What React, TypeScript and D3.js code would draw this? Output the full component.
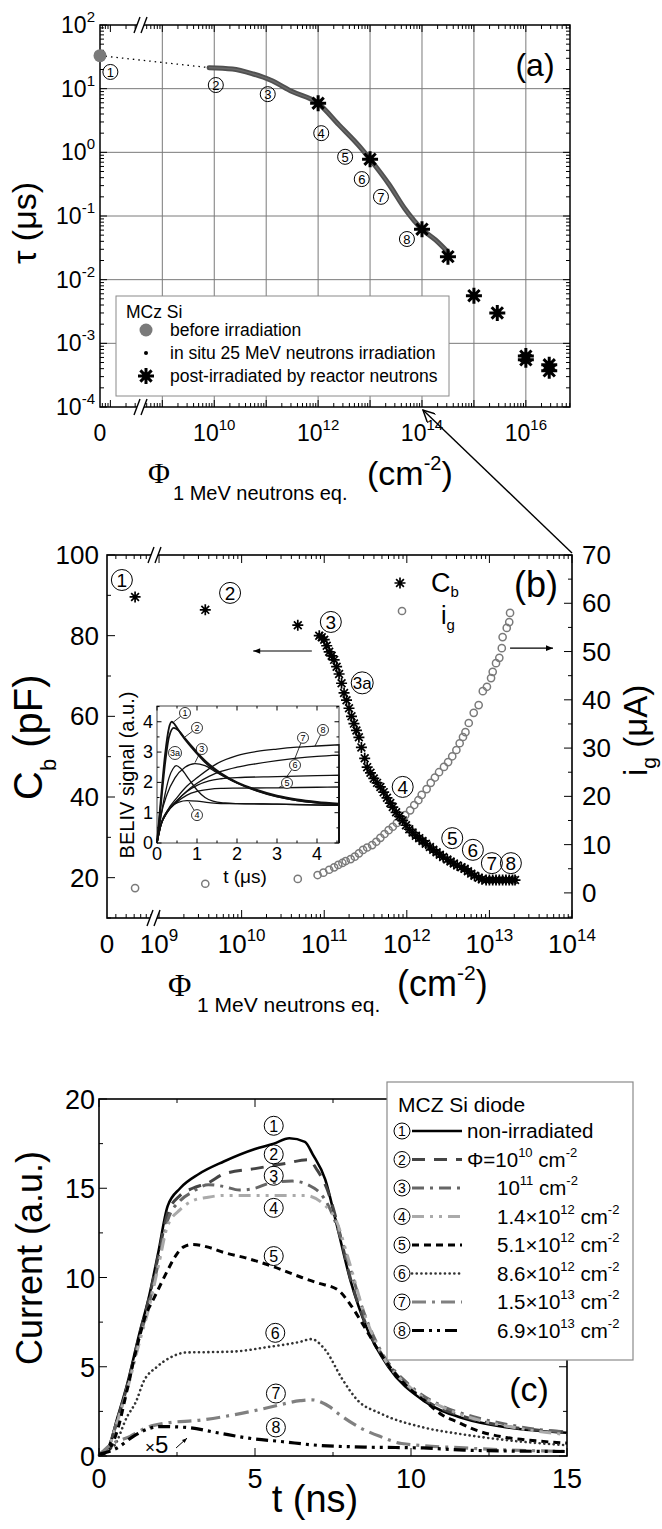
import React from 'react';
import * as d3 from 'd3';

// ---------- panel (a): lifetime vs fluence ----------
const tauBefore = 33; // unirradiated sample, plotted at fluence "0"
const insituLogPhi = [9.9, 10.35, 10.75, 11.08, 11.5, 12.0, 12.4, 12.8, 13.0, 13.37, 13.67, 14.0, 14.26, 14.5];
const insituTau = [21.4, 20.4, 17, 13.7, 9.0, 5.9, 2.7, 1.23, 0.78, 0.31, 0.13, 0.062, 0.042, 0.027];
const reactorLogPhi = [12, 13, 14, 14.5, 15, 15.45, 16, 16, 16.45, 16.45];
const reactorTau = [5.9, 0.78, 0.062, 0.023, 0.0056, 0.003, 6.3e-4, 5.5e-4, 4.6e-4, 3.7e-4];
const aLabelText = ['1', '2', '3', '4', '5', '6', '7', '8'];
const aLabelLogPhi = [8.0, 10.03, 11.03, 12.06, 12.52, 12.84, 13.21, 13.71];
const aLabelTau = [18.3, 11.4, 8.2, 2.0, 0.85, 0.38, 0.2, 0.0435];
const aLegend = ['before irradiation', 'in situ 25 MeV neutrons irradiation', 'post-irradiated by reactor neutrons'];
const aXLabelPow = [10, 12, 14, 16];
const aYPow = [-4, -3, -2, -1, 0, 1, 2];

// ---------- panel (b): barrier capacitance and generation current ----------
const cbLogPhi = [8.71, 9.56, 10.68,
  10.94, 10.97, 11.0, 11.03, 11.06, 11.09, 11.12, 11.15, 11.18, 11.21, 11.24, 11.27, 11.3, 11.33, 11.36, 11.39,
  11.42, 11.45, 11.49, 11.52, 11.56, 11.6, 11.64, 11.68, 11.72, 11.76, 11.8, 11.83, 11.87, 11.91, 11.95, 11.99,
  12.03, 12.07, 12.11, 12.15, 12.19, 12.23, 12.28, 12.32, 12.36, 12.4, 12.44, 12.49, 12.53, 12.57, 12.61, 12.66,
  12.7, 12.74, 12.78, 12.82, 12.87, 12.91, 12.96, 13.0, 13.04, 13.08, 13.12, 13.16, 13.2, 13.24, 13.28, 13.31];
const cbVal = [89.6, 86.4, 82.6,
  80.0, 79.6, 79.0, 77.5, 76.0, 75.0, 74.0, 72.3, 70.5, 68.2, 65.8, 64.0, 62.0, 60.0, 58.2, 56.5,
  54.8, 52.3, 49.6, 47.4, 46.0, 44.6, 43.5, 42.5, 41.2, 39.8, 38.5, 37.5, 36.2, 35.2, 34.2, 33.0,
  32.0, 31.2, 30.4, 29.8, 29.1, 28.4, 27.6, 26.9, 26.3, 25.7, 25.1, 24.5, 24.0, 23.5, 23.0, 22.6,
  22.2, 21.6, 21.0, 20.5, 20.0, 19.6, 19.4, 19.4, 19.4, 19.4, 19.4, 19.4, 19.4, 19.4, 19.4, 19.4];
const igLogPhi = [8.71, 9.56, 10.68,
  10.92, 10.99, 11.06, 11.12, 11.17, 11.22, 11.26, 11.32, 11.37, 11.42, 11.47, 11.52, 11.58, 11.63, 11.68,
  11.73, 11.78, 11.83, 11.88, 11.93, 11.98, 12.04, 12.09, 12.14, 12.18, 12.24, 12.29, 12.34, 12.39, 12.45,
  12.5, 12.55, 12.6, 12.64, 12.68, 12.71, 12.75, 12.81, 12.87, 12.92, 12.97, 13.02, 13.04, 13.08, 13.12,
  13.15, 13.16, 13.21, 13.24, 13.25];
const igVal = [1.0, 1.9, 2.9,
  3.7, 4.2, 4.8, 5.3, 5.8, 6.2, 6.6, 7.0, 7.5, 8.2, 8.9, 9.4, 9.9, 10.6, 11.4,
  12.2, 13.0, 13.7, 14.5, 15.3, 16.1, 17.1, 18.2, 19.2, 20.3, 21.5, 22.8, 23.9, 25.0, 26.1,
  27.1, 28.3, 29.6, 31.0, 32.3, 33.3, 35.2, 37.3, 38.9, 41.8, 42.7, 44.5, 45.8, 47.6, 48.7,
  50.7, 53.0, 54.9, 56.1, 58.0];
const bLabelText = ['1', '2', '3', '3a', '4', '5', '6', '7', '8'];
const bLabelLogPhi = [8.55, 9.86, 11.08, 11.46, 11.95, 12.55, 12.8, 13.03, 13.26];
const bLabelCb = [93.8, 90.6, 83.4, 68.3, 42.5, 29.8, 26.9, 23.6, 23.6];
const bXPow = [9, 10, 11, 12, 13, 14];
const bLeftTicks = [20, 40, 60, 80, 100];
const bRightTicks = [0, 10, 20, 30, 40, 50, 60, 70];

// inset: BELIV transients
const belivCurves = [
  { id: '1', pts: [[0, 0], [0.1, 1.5], [0.2, 2.9], [0.3, 3.8], [0.37, 4.0], [0.45, 3.9], [0.6, 3.6], [0.8, 3.25], [1.0, 2.95], [1.25, 2.6], [1.5, 2.35], [2.0, 1.98], [2.5, 1.72], [3.0, 1.53], [3.5, 1.41], [4.0, 1.33], [4.55, 1.27]] },
  { id: '2', pts: [[0, 0], [0.1, 1.3], [0.2, 2.6], [0.3, 3.5], [0.42, 3.8], [0.55, 3.7], [0.7, 3.45], [0.9, 3.15], [1.1, 2.85], [1.3, 2.6], [1.6, 2.3], [2.0, 2.0], [2.5, 1.75], [3.0, 1.56], [3.5, 1.44], [4.0, 1.36], [4.55, 1.3]] },
  { id: '3', pts: [[0, 0], [0.1, 0.9], [0.25, 1.6], [0.45, 2.15], [0.7, 2.5], [0.95, 2.62], [1.2, 2.55], [1.5, 2.32], [2.0, 1.98], [2.5, 1.72], [3.0, 1.53], [3.5, 1.4], [4.0, 1.32], [4.55, 1.27]] },
  { id: '3a', pts: [[0, 0], [0.1, 0.9], [0.2, 1.6], [0.3, 2.15], [0.4, 2.45], [0.48, 2.55], [0.6, 2.45], [0.8, 2.1], [1.0, 1.75], [1.2, 1.5], [1.4, 1.38], [1.7, 1.32], [2.0, 1.3], [3.0, 1.28], [4.0, 1.25], [4.55, 1.24]] },
  { id: '4', pts: [[0, 0], [0.1, 0.65], [0.2, 0.95], [0.35, 1.2], [0.55, 1.35], [0.75, 1.4], [1.0, 1.38], [1.3, 1.33], [1.6, 1.3], [2.0, 1.3], [3.0, 1.28], [4.0, 1.26], [4.55, 1.25]] },
  { id: '5', pts: [[0, 0], [0.1, 0.6], [0.25, 1.0], [0.5, 1.35], [0.75, 1.58], [1.0, 1.7], [1.3, 1.77], [1.6, 1.8], [2.0, 1.81], [3.0, 1.82], [4.0, 1.84], [4.55, 1.85]] },
  { id: '6', pts: [[0, 0], [0.1, 0.6], [0.25, 1.0], [0.5, 1.4], [0.75, 1.7], [1.0, 1.9], [1.3, 2.05], [1.6, 2.12], [2.0, 2.16], [3.0, 2.19], [4.0, 2.22], [4.55, 2.24]] },
  { id: '7', pts: [[0, 0], [0.1, 0.6], [0.25, 1.0], [0.5, 1.4], [0.75, 1.72], [1.0, 1.97], [1.3, 2.2], [1.6, 2.36], [2.0, 2.5], [2.5, 2.62], [3.0, 2.72], [3.5, 2.8], [4.0, 2.86], [4.55, 2.9]] },
  { id: '8', pts: [[0, 0], [0.1, 0.6], [0.25, 1.05], [0.5, 1.5], [0.75, 1.88], [1.0, 2.15], [1.5, 2.62], [2.0, 2.88], [2.5, 3.02], [3.0, 3.1], [3.5, 3.16], [4.0, 3.2], [4.55, 3.24]] },
];
const belivLabels = [
  { id: '1', t: 0.7, s: 4.29, tt: 0.42, ts: 4.0 },
  { id: '2', t: 1.0, s: 3.8, tt: 0.7, ts: 3.5 },
  { id: '3a', t: 0.45, s: 2.97, tt: 0.45, ts: 2.97 },
  { id: '3', t: 1.12, s: 3.1, tt: 0.95, ts: 2.65 },
  { id: '4', t: 1.0, s: 0.92, tt: 0.8, ts: 1.36 },
  { id: '5', t: 3.25, s: 1.98, tt: 3.05, ts: 1.83 },
  { id: '6', t: 3.45, s: 2.57, tt: 3.25, ts: 2.2 },
  { id: '7', t: 3.65, s: 3.47, tt: 3.45, ts: 2.8 },
  { id: '8', t: 4.15, s: 3.73, tt: 3.95, ts: 3.2 },
];

// ---------- panel (c): current transients ----------
const cur1 = [[0, 0.1], [0.3, 0.5], [0.6, 2.2], [0.9, 4.0], [1.3, 6.9], [1.6, 8.9], [1.9, 11.4], [2.2, 14.0], [2.6, 15.0], [3.2, 15.8], [4, 16.5], [5, 17.2], [5.6, 17.5], [6.1, 17.8], [6.6, 17.6], [6.85, 16.9], [7.25, 15.5], [7.6, 13.1], [8.05, 9.9], [8.6, 7.1], [9.27, 5.0], [10.4, 3.1], [11.7, 2.1], [13.1, 1.6], [15, 1.3]];
const cur2 = [[0, 0.1], [0.3, 0.5], [0.6, 2.1], [0.9, 3.9], [1.3, 6.8], [1.6, 8.8], [1.9, 11.2], [2.2, 13.6], [2.6, 14.6], [3.0, 15.0], [3.5, 15.3], [4, 15.8], [5, 16.1], [6, 16.4], [6.7, 16.6], [7.0, 16.0], [7.3, 15.0], [7.6, 13.3], [8.05, 10.0], [8.6, 7.2], [9.3, 5.1], [10.4, 3.2], [11.7, 2.2], [13.1, 1.65], [15, 1.35]];
const cur3 = [[0, 0.1], [0.3, 0.5], [0.6, 2.1], [0.9, 3.8], [1.3, 6.6], [1.6, 8.5], [1.9, 10.8], [2.2, 13.2], [2.6, 14.3], [3.0, 14.8], [3.5, 15.2], [4.0, 15.1], [4.5, 14.9], [5.0, 15.0], [5.5, 15.3], [6.2, 15.4], [6.9, 15.0], [7.3, 14.2], [7.6, 13.0], [8.0, 10.8], [8.5, 8.0], [9.0, 6.0], [10, 3.9], [11, 2.8], [12, 2.2], [13, 1.8], [14, 1.5], [15, 1.35]];
const cur4 = [[0, 0.1], [0.3, 0.5], [0.6, 2.0], [0.9, 3.7], [1.3, 6.4], [1.6, 8.3], [1.9, 10.6], [2.2, 12.9], [2.6, 13.8], [3.0, 14.3], [3.5, 14.5], [4.0, 14.6], [5.0, 14.6], [6.0, 14.6], [6.6, 14.6], [7.2, 14.1], [7.6, 13.2], [8.0, 11.0], [8.5, 8.0], [9.0, 5.9], [10, 3.8], [11, 2.75], [12, 2.1], [13, 1.7], [14, 1.4], [15, 1.2]];
const cur5 = [[0, 0.05], [0.3, 0.3], [0.6, 1.5], [0.9, 3.7], [1.2, 6.0], [1.5, 7.9], [1.75, 8.8], [2.0, 9.7], [2.2, 10.4], [2.45, 11.2], [2.7, 11.7], [3.0, 11.85], [3.5, 11.7], [4.0, 11.4], [4.7, 11.1], [5.6, 10.6], [6.5, 10.0], [7.0, 9.7], [7.66, 9.3], [8.05, 8.5], [8.5, 7.25], [9.0, 5.8], [9.5, 4.6], [10, 3.7], [10.5, 3.0], [11, 2.3], [11.5, 1.9], [12, 1.5], [13, 1.05], [14, 0.85], [15, 0.72]];
const cur6 = [[0, 0.05], [0.15, 0.3], [0.45, 0.5], [0.9, 2.2], [1.2, 3.1], [1.41, 4.1], [1.86, 5.0], [2.27, 5.5], [2.8, 5.8], [3.5, 5.82], [4.3, 5.85], [5.4, 6.1], [6.45, 6.4], [6.8, 6.55], [7.25, 5.95], [7.8, 4.3], [8.3, 3.1], [9.0, 2.4], [10.4, 1.6], [11.7, 1.2], [13, 0.9], [15, 0.6]];
const cur7 = [[0, 0.05], [0.35, 0.6], [1.0, 1.1], [1.54, 1.6], [2.17, 1.85], [3.2, 2.0], [4.3, 2.3], [5.4, 2.7], [6.45, 3.1], [6.8, 3.15], [7.4, 2.75], [7.65, 2.4], [8.3, 1.65], [9.0, 1.1], [9.7, 0.7], [11.7, 0.45], [15, 0.25]];
const cur8 = [[0, 0.1], [0.58, 0.45], [1.1, 1.1], [1.63, 1.55], [1.95, 1.65], [2.8, 1.6], [3.8, 1.3], [4.8, 1.0], [5.9, 0.8], [7.0, 0.6], [8.5, 0.5], [10.4, 0.45], [11.7, 0.33], [15, 0.25]];
const curves = [cur1, cur2, cur3, cur4, cur5, cur6, cur7, cur8];
const curColor = ['#000', '#444', '#666', '#aaa', '#000', '#333', '#808080', '#000'];
const curWidth = [2.6, 3, 3, 3, 3, 2.6, 3.2, 3.2];
const curDash = ['none', '13 9', '12 6 3 6', '12 6 3 6 3 6', '7 5', '0.1 4.6', '14 6 3 6', '12 5 3 5 3 5'];
const cLegendExp = ['', '10', '11', '12', '12', '12', '13', '13'];
const cLegendMant = ['', 'Φ=', '', '1.4×', '5.1×', '8.6×', '1.5×', '6.9×'];
const cLabelT = [5.6, 5.6, 5.6, 5.6, 5.6, 5.65, 5.67, 5.67];
const cLabelI = [18.5, 16.9, 15.7, 13.9, 11.2, 6.9, 3.5, 1.6];
const cTicks = [0, 5, 10, 15];
const cYTicks = [0, 5, 10, 15, 20];

// ---------- frames ----------
const A = { left: 100, right: 570, top: 25, bottom: 407 };
const B = { left: 107, right: 572, top: 555, bottom: 918 };
const INS = { left: 157, right: 339, top: 706, bottom: 843 };
const C = { left: 99, right: 567, top: 1099, bottom: 1456 };

const xA = d3.scaleLog().domain([10 ** 7.8, 10 ** 16.85]).range([A.left, A.right]);
const yA = d3.scaleLog().domain([1e-4, 1e2]).range([A.bottom, A.top]);
const xB = d3.scaleLog().domain([10 ** 8.37, 1e14]).range([B.left, B.right]);
const yB = d3.scaleLinear().domain([10, 100]).range([B.bottom, B.top]);
const yB2 = d3.scaleLinear().domain([-5.2, 70]).range([B.bottom, B.top]);
const xI = d3.scaleLinear().domain([0, 4.55]).range([INS.left, INS.right]);
const yI = d3.scaleLinear().domain([0, 4.52]).range([INS.bottom, INS.top]);
const xC = d3.scaleLinear().domain([0, 15]).range([C.left, C.right]);
const yC = d3.scaleLinear().domain([0, 20]).range([C.bottom, C.top]);

const FONT = 'Liberation Sans, Arial, Helvetica, sans-serif';
const SERIF = 'Liberation Serif, Times New Roman, serif';

function logTicks(domain) {
  const [a, b] = domain;
  const major = [];
  const minor = [];
  for (let k = Math.floor(Math.log10(a)); k <= Math.ceil(Math.log10(b)); k++) {
    for (let m = 1; m < 10; m++) {
      const v = m * 10 ** k;
      if (v < a * 0.9999 || v > b * 1.0001) continue;
      (m === 1 ? major : minor).push(v);
    }
  }
  return { major, minor };
}

function starPath(r) {
  let d = '';
  for (let i = 0; i < 4; i++) {
    const a = (i * Math.PI) / 4;
    const dx = r * Math.cos(a);
    const dy = r * Math.sin(a);
    d += `M${-dx},${-dy}L${dx},${dy}`;
  }
  return d;
}

const Circled = ({ x, y, r, label, fs }) => (
  <g>
    <circle cx={x} cy={y} r={r} fill="none" stroke="#000" strokeWidth={1} />
    <text x={x} y={y} dy="0.36em" textAnchor="middle" fontSize={fs} fontFamily={FONT}>{label}</text>
  </g>
);

const Break = ({ x, y }) => (
  <g>
    <polygon points={`${x - 8},${y + 8} ${x - 2},${y - 8} ${x + 5},${y - 8} ${x - 1},${y + 8}`} fill="#fff" />
    <line x1={x - 8} y1={y + 8} x2={x - 2} y2={y - 8} stroke="#000" strokeWidth={1.4} />
    <line x1={x - 1} y1={y + 8} x2={x + 5} y2={y - 8} stroke="#000" strokeWidth={1.4} />
  </g>
);

// ticks helpers: inward ticks on a box
function xTicks(scale, vals, yTop, yBot, len, key) {
  return vals.map((v, i) => (
    <g key={key + i}>
      <line x1={scale(v)} x2={scale(v)} y1={yBot} y2={yBot - len} stroke="#000" strokeWidth={1} />
      <line x1={scale(v)} x2={scale(v)} y1={yTop} y2={yTop + len} stroke="#000" strokeWidth={1} />
    </g>
  ));
}
function yTicksL(scale, vals, x, len, key) {
  return vals.map((v, i) => (
    <line key={key + i} x1={x} x2={x + len} y1={scale(v)} y2={scale(v)} stroke="#000" strokeWidth={1} />
  ));
}
function yTicksR(scale, vals, x, len, key) {
  return vals.map((v, i) => (
    <line key={key + i} x1={x} x2={x - len} y1={scale(v)} y2={scale(v)} stroke="#000" strokeWidth={1} />
  ));
}

const PanelA = () => {
  const xt = logTicks(xA.domain());
  const yt = logTicks(yA.domain());
  const line = d3.line().x((d) => xA(10 ** d[0])).y((d) => yA(d[1])).curve(d3.curveMonotoneX);
  const insitu = insituLogPhi.map((p, i) => [p, insituTau[i]]);
  const lx = 146;
  const legY = [330, 353, 376];
  return (
    <g fontFamily={FONT}>
      {/* grid */}
      {d3.range(9, 17).map((k) => (
        <line key={'gv' + k} x1={xA(10 ** k)} x2={xA(10 ** k)} y1={A.top} y2={A.bottom} stroke="#7a7a7a" strokeWidth={1} />
      ))}
      {d3.range(-3, 2).map((k) => (
        <line key={'gh' + k} x1={A.left} x2={A.right} y1={yA(10 ** k)} y2={yA(10 ** k)} stroke="#7a7a7a" strokeWidth={1} />
      ))}
      {xTicks(xA, xt.major, A.top, A.bottom, 7, 'axM')}
      {xTicks(xA, xt.minor, A.top, A.bottom, 4, 'axm')}
      {yTicksL(yA, yt.major, A.left, 7, 'ayLM')}
      {yTicksL(yA, yt.minor, A.left, 4, 'ayLm')}
      {yTicksR(yA, yt.major, A.right, 7, 'ayRM')}
      {yTicksR(yA, yt.minor, A.right, 4, 'ayRm')}
      <rect x={A.left} y={A.top} width={A.right - A.left} height={A.bottom - A.top} fill="none" stroke="#000" strokeWidth={1.5} />
      <Break x={142} y={A.top} />
      <Break x={142} y={A.bottom} />

      {/* data */}
      <line x1={A.left} y1={yA(tauBefore)} x2={xA(10 ** insituLogPhi[0])} y2={yA(insituTau[0])} stroke="#000" strokeWidth={1.3} strokeDasharray="1.5 4" />
      <path d={line(insitu)} fill="none" stroke="#505050" strokeWidth={5} strokeLinecap="round" />
      <path d={line(insitu)} fill="none" stroke="#6a6a6a" strokeWidth={1.5} />
      <circle cx={A.left} cy={yA(tauBefore)} r={6.5} fill="#7a7a7a" />
      {reactorLogPhi.map((p, i) => (
        <path key={'st' + i} d={starPath(8)} transform={`translate(${xA(10 ** p)},${yA(reactorTau[i])})`} stroke="#000" strokeWidth={3} />
      ))}
      {aLabelText.map((t, i) => (
        <Circled key={'al' + i} x={xA(10 ** aLabelLogPhi[i])} y={yA(aLabelTau[i])} r={7.5} label={t} fs={13} />
      ))}

      {/* legend */}
      <rect x={116} y={296} width={333} height={100} fill="#fff" stroke="#8a8a8a" strokeWidth={1} />
      <text x={126} y={318} fontSize={17.5}>MCz Si</text>
      <circle cx={lx} cy={legY[0]} r={6.5} fill="#7a7a7a" />
      <circle cx={lx} cy={legY[1]} r={2} fill="#000" />
      <path d={starPath(8)} transform={`translate(${lx},${legY[2]})`} stroke="#000" strokeWidth={3} />
      {aLegend.map((t, i) => (
        <text key={'alg' + i} x={170} y={legY[i] + 6} fontSize={17.5}>{t}</text>
      ))}

      <text x={535} y={76} fontSize={32} textAnchor="middle">(a)</text>

      {/* tick labels */}
      <text x={A.left} y={441} fontSize={23} textAnchor="middle">0</text>
      {aXLabelPow.map((k) => (
        <text key={'axl' + k} x={xA(10 ** k)} y={441} fontSize={23} textAnchor="middle">
          10<tspan fontSize={15} dy={-11}>{k}</tspan>
        </text>
      ))}
      {aYPow.map((k) => (
        <text key={'ayl' + k} x={95} y={yA(10 ** k) + 8} fontSize={23} textAnchor="end">
          10<tspan fontSize={15} dy={-11}>{k}</tspan>
        </text>
      ))}

      {/* axis titles */}
      <text transform="translate(36,223) rotate(-90)" fontSize={34} textAnchor="middle">τ (μs)</text>
      <text x={148} y={483} fontSize={30} fontFamily={SERIF}>Φ</text>
      <text x={173} y={500} fontSize={20}>1 MeV neutrons eq.</text>
      <text x={367} y={485} fontSize={34}>
        (cm<tspan fontSize={20} dy={-15}>-2</tspan><tspan dy={15}>)</tspan>
      </text>
    </g>
  );
};

const PanelB = () => {
  const xt = logTicks(xB.domain());
  const line = d3.line().x((d) => xI(d[0])).y((d) => yI(d[1])).curve(d3.curveMonotoneX);
  const insetXT = [0, 1, 2, 3, 4];
  return (
    <g fontFamily={FONT}>
      {xTicks(xB, xt.major, B.top, B.bottom, 8, 'bxM')}
      {xTicks(xB, xt.minor, B.top, B.bottom, 4, 'bxm')}
      {yTicksL(yB, d3.range(20, 101, 20), B.left, 8, 'byLM')}
      {yTicksL(yB, d3.range(10, 100, 20), B.left, 4, 'byLm')}
      {yTicksR(yB2, d3.range(0, 71, 10), B.right, 8, 'byRM')}
      {yTicksR(yB2, d3.range(-5, 70, 10), B.right, 4, 'byRm')}
      <rect x={B.left} y={B.top} width={B.right - B.left} height={B.bottom - B.top} fill="none" stroke="#000" strokeWidth={1.6} />
      <Break x={156} y={B.top} />
      <Break x={155} y={B.bottom} />

      {/* inset */}
      <rect x={INS.left} y={INS.top} width={INS.right - INS.left} height={INS.bottom - INS.top} fill="#fff" stroke="#444" strokeWidth={1} />
      {d3.range(0, 4.6, 0.5).map((v, i) => (
        <g key={'ixt' + i}>
          <line x1={xI(v)} x2={xI(v)} y1={INS.bottom} y2={INS.bottom - (i % 2 ? 2.5 : 4.5)} stroke="#000" />
          <line x1={xI(v)} x2={xI(v)} y1={INS.top} y2={INS.top + (i % 2 ? 2.5 : 4.5)} stroke="#000" />
        </g>
      ))}
      {d3.range(0, 4.6, 0.5).map((v, i) => (
        <g key={'iyt' + i}>
          <line x1={INS.left} x2={INS.left + (i % 2 ? 2.5 : 4.5)} y1={yI(v)} y2={yI(v)} stroke="#000" />
          <line x1={INS.right} x2={INS.right - (i % 2 ? 2.5 : 4.5)} y1={yI(v)} y2={yI(v)} stroke="#000" />
        </g>
      ))}
      {belivCurves.map((c) => (
        <path key={'bc' + c.id} d={line(c.pts) + `L${xI(4.55)},${yI(0)}`} fill="none" stroke="#111" strokeWidth={c.id === '1' || c.id === '2' ? 1.8 : 1.3} />
      ))}
      {belivLabels.map((l) => {
        const cx = xI(l.t);
        const cy = yI(l.s);
        const tx = xI(l.tt);
        const ty = yI(l.ts);
        const r = l.id === '3a' ? 6.5 : 5.5;
        const dx = tx - cx;
        const dy = ty - cy;
        const dist = Math.hypot(dx, dy);
        return (
          <g key={'il' + l.id}>
            {dist > r + 1 && (
              <line x1={cx + (dx / dist) * r} y1={cy + (dy / dist) * r} x2={tx} y2={ty} stroke="#000" strokeWidth={0.8} />
            )}
            <circle cx={cx} cy={cy} r={r} fill="#fff" stroke="#000" strokeWidth={0.8} />
            <text x={cx} y={cy} dy="0.36em" textAnchor="middle" fontSize={9}>{l.id}</text>
          </g>
        );
      })}
      {insetXT.map((v) => (
        <text key={'ixl' + v} x={xI(v)} y={860} fontSize={18} textAnchor="middle">{v}</text>
      ))}
      {insetXT.map((v) => (
        <text key={'iyl' + v} x={153} y={yI(v) + 6} fontSize={18} textAnchor="end">{v}</text>
      ))}
      <text transform="translate(134,775) rotate(-90)" fontSize={20} textAnchor="middle">BELIV signal (a.u.)</text>
      <text x={245} y={883} fontSize={19} textAnchor="middle">t (μs)</text>

      {/* data */}
      {igLogPhi.map((p, i) => (
        <circle key={'ig' + i} cx={xB(10 ** p)} cy={yB2(igVal[i])} r={3.6} fill="none" stroke="#7a7a7a" strokeWidth={1.5} />
      ))}
      {cbLogPhi.map((p, i) => (
        <path key={'cb' + i} d={starPath(5.5)} transform={`translate(${xB(10 ** p)},${yB(cbVal[i])})`} stroke="#000" strokeWidth={1.7} />
      ))}
      {bLabelText.map((t, i) => (
        <Circled key={'bl' + i} x={xB(10 ** bLabelLogPhi[i])} y={yB(bLabelCb[i])} r={t === '3a' ? 11 : 10.5} label={t} fs={t === '3a' ? 17 : 19} />
      ))}

      {/* arrows to axes */}
      <line x1={xB(10 ** 10.85)} x2={xB(10 ** 10.14)} y1={yB(76.2)} y2={yB(76.2)} stroke="#000" strokeWidth={1.2} markerEnd="url(#ahf)" />
      <line x1={xB(10 ** 13.25)} x2={xB(10 ** 13.77)} y1={yB2(50.7)} y2={yB2(50.7)} stroke="#000" strokeWidth={1.2} markerEnd="url(#ahf)" />

      {/* legend */}
      <path d={starPath(5.5)} transform="translate(400,583)" stroke="#000" strokeWidth={1.7} />
      <text x={431} y={592} fontSize={27}>C<tspan fontSize={15} dy={5}>b</tspan></text>
      <circle cx={402} cy={611} r={3.6} fill="none" stroke="#7a7a7a" strokeWidth={1.5} />
      <text x={441} y={624} fontSize={25}>i<tspan fontSize={15} dy={6}>g</tspan></text>
      <text x={536} y={597} fontSize={36} textAnchor="middle">(b)</text>

      {/* tick labels */}
      <text x={B.left} y={953} fontSize={26} textAnchor="middle">0</text>
      {bXPow.map((k) => (
        <text key={'bxl' + k} x={xB(10 ** k)} y={953} fontSize={26} textAnchor="middle">
          10<tspan fontSize={17} dy={-12}>{k}</tspan>
        </text>
      ))}
      {bLeftTicks.map((v) => (
        <text key={'byl' + v} x={99} y={yB(v) + 9} fontSize={26} textAnchor="end">{v}</text>
      ))}
      {bRightTicks.map((v) => (
        <text key={'byr' + v} x={582} y={yB2(v) + 9} fontSize={26}>{v}</text>
      ))}

      {/* axis titles */}
      <text transform="translate(42,800) rotate(-90)" fontSize={40}>
        C<tspan fontSize={22} dy={14}>b</tspan><tspan dy={-14}> (pF)</tspan>
      </text>
      <text transform="translate(647,776) rotate(-90)" fontSize={33}>
        i<tspan fontSize={21} dy={9}>g</tspan><tspan dy={-9}> (μA)</tspan>
      </text>
      <text x={168} y={996} fontSize={32} fontFamily={SERIF}>Φ</text>
      <text x={197} y={1012} fontSize={21}>1 MeV neutrons eq.</text>
      <text x={397} y={996} fontSize={36}>
        (cm<tspan fontSize={21} dy={-16}>-2</tspan><tspan dy={16}>)</tspan>
      </text>
    </g>
  );
};

const PanelC = () => {
  const line = d3.line().x((d) => xC(d[0])).y((d) => yC(d[1])).curve(d3.curveMonotoneX);
  const rowBase = (i) => 1138 + i * 28.5;
  return (
    <g fontFamily={FONT}>
      {xTicks(xC, cTicks, C.top, C.bottom, 8, 'cxM')}
      {xTicks(xC, [2.5, 7.5, 12.5], C.top, C.bottom, 4, 'cxm')}
      {yTicksL(yC, cYTicks, C.left, 8, 'cyLM')}
      {yTicksL(yC, [2.5, 7.5, 12.5, 17.5], C.left, 4, 'cyLm')}
      {yTicksR(yC, cYTicks, C.right, 8, 'cyRM')}
      {yTicksR(yC, [2.5, 7.5, 12.5, 17.5], C.right, 4, 'cyRm')}
      {curves.map((c, i) => (
        <path key={'cc' + i} d={line(c)} fill="none" stroke={curColor[i]} strokeWidth={curWidth[i]} strokeDasharray={curDash[i]} strokeLinecap={i === 5 ? 'round' : 'butt'} />
      ))}
      <rect x={C.left} y={C.top} width={C.right - C.left} height={C.bottom - C.top} fill="none" stroke="#000" strokeWidth={1.6} />
      {cLabelT.map((t, i) => (
        <Circled key={'cl' + i} x={xC(t)} y={yC(cLabelI[i])} r={9.5} label={String(i + 1)} fs={16} />
      ))}
      <text x={145} y={1453} fontSize={17}>×<tspan fontSize={24}>5</tspan></text>
      <line x1={xC(2.47)} y1={yC(0.45)} x2={xC(2.82)} y2={yC(1.0)} stroke="#000" strokeWidth={1} markerEnd="url(#ahs)" />
      <text x={529} y={1401} fontSize={34} textAnchor="middle">(c)</text>

      {/* legend */}
      <rect x={387} y={1082} width={246} height={278} fill="#fff" stroke="#8a8a8a" strokeWidth={1.2} />
      <text x={398} y={1112} fontSize={21}>MCZ Si diode</text>
      {curves.map((c, i) => (
        <g key={'lg' + i}>
          <Circled x={402} y={rowBase(i) - 7} r={8} label={String(i + 1)} fs={14} />
          <line x1={412} x2={462} y1={rowBase(i) - 7} y2={rowBase(i) - 7} stroke={curColor[i]} strokeWidth={curWidth[i]} strokeDasharray={curDash[i]} strokeLinecap={i === 5 ? 'round' : 'butt'} />
          {i === 0 ? (
            <text x={467} y={rowBase(i)} fontSize={20.5}>non-irradiated</text>
          ) : (
            <text x={i === 1 ? 467 : 497} y={rowBase(i)} fontSize={20.5}>
              {cLegendMant[i]}10<tspan fontSize={13} dy={-10}>{cLegendExp[i]}</tspan>
              <tspan dy={10}> cm</tspan><tspan fontSize={13} dy={-10}>-2</tspan>
            </text>
          )}
        </g>
      ))}

      {/* tick labels */}
      {cTicks.map((v) => (
        <text key={'cxl' + v} x={xC(v)} y={1488} fontSize={27} textAnchor="middle">{v}</text>
      ))}
      {cYTicks.map((v) => (
        <text key={'cyl' + v} x={95} y={yC(v) + 10} fontSize={27} textAnchor="end">{v}</text>
      ))}
      <text transform="translate(42,1258) rotate(-90)" fontSize={36} textAnchor="middle">Current (a.u.)</text>
      <text x={315} y={1512} fontSize={38} textAnchor="middle">t (ns)</text>
    </g>
  );
};

export default function App() {
  return (
    <svg width={662} height={1529} style={{ position: 'absolute', left: 0, top: 0, background: '#fff' }}>
      <defs>
        <marker id="ahf" viewBox="0 0 10 10" refX={10} refY={5} markerWidth={9} markerHeight={7} markerUnits="userSpaceOnUse" orient="auto">
          <path d="M0,1L10,5L0,9z" fill="#000" />
        </marker>
        <marker id="ahs" viewBox="0 0 10 10" refX={10} refY={5} markerWidth={6} markerHeight={5} markerUnits="userSpaceOnUse" orient="auto">
          <path d="M0,1L10,5L0,9z" fill="#000" />
        </marker>
        <marker id="aho" viewBox="0 0 10 10" refX={10} refY={5} markerWidth={14} markerHeight={12} markerUnits="userSpaceOnUse" orient="auto">
          <path d="M0,0L10,5L0,10" fill="none" stroke="#000" strokeWidth={1.2} />
        </marker>
      </defs>
      <rect width={662} height={1529} fill="#fff" />
      <PanelA />
      <PanelB />
      <PanelC />
      {/* arrow linking panel (b) to 10^14 in panel (a) */}
      <line x1={B.right} y1={B.top - 2} x2={xA(1e14) + 1} y2={A.bottom + 3} stroke="#000" strokeWidth={1.4} markerEnd="url(#aho)" />
    </svg>
  );
}
